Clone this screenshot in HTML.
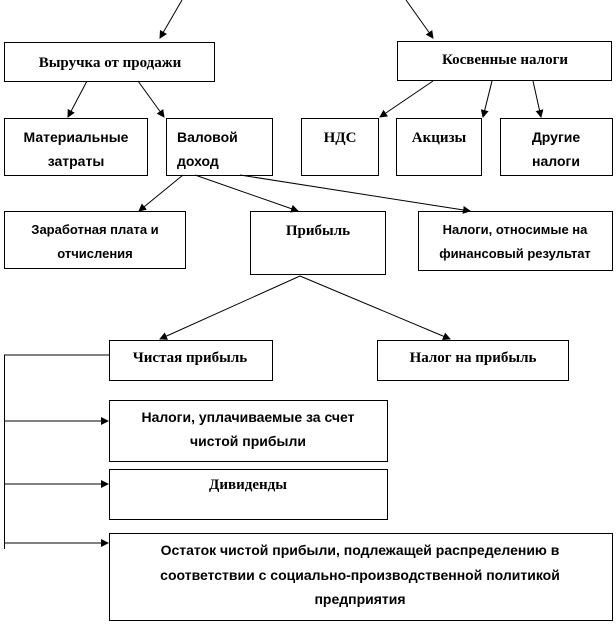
<!DOCTYPE html>
<html><head><meta charset="utf-8"><style>
body{margin:0;background:#fff;width:616px;height:624px;overflow:hidden}
svg text{font-weight:bold;fill:#000}
.s{font-family:"Liberation Serif",serif;font-size:15px}
.a{font-family:"Liberation Sans",sans-serif;font-size:14px}
</style></head><body>
<svg width="616" height="624" viewBox="0 0 616 624" xmlns="http://www.w3.org/2000/svg">
<defs><marker id="m" markerWidth="8" markerHeight="8" refX="7" refY="4" orient="auto" markerUnits="userSpaceOnUse"><path d="M0,0 L8,4 L0,8 z" fill="#000"/></marker></defs>
<g fill="#fff" stroke="#000" stroke-width="1">
<rect x="4.5" y="42.5" width="210" height="39"/>
<rect x="397.5" y="41.5" width="214" height="39"/>
<rect x="4.5" y="118.5" width="143" height="57"/>
<rect x="166.5" y="118.5" width="106" height="57"/>
<rect x="301.5" y="118.5" width="77" height="57"/>
<rect x="396.5" y="118.5" width="85" height="57"/>
<rect x="500.5" y="118.5" width="112" height="57"/>
<rect x="4.5" y="211.5" width="181" height="57"/>
<rect x="250.5" y="211.5" width="135" height="63"/>
<rect x="418.5" y="211.5" width="194" height="59"/>
<rect x="109.5" y="340.5" width="163" height="40"/>
<rect x="377.5" y="340.5" width="191" height="40"/>
<rect x="109.5" y="400.5" width="278" height="61"/>
<rect x="109.5" y="469.5" width="278" height="50"/>
<rect x="109.5" y="533.5" width="503" height="87"/>
</g>
<g stroke="#000" stroke-width="1" fill="none" marker-end="url(#m)">
<line x1="182" y1="0" x2="160" y2="38"/>
<line x1="406" y1="0" x2="433" y2="38"/>
<line x1="87" y1="81" x2="68" y2="117"/>
<line x1="138" y1="81" x2="164" y2="117"/>
<line x1="433" y1="81" x2="380" y2="117"/>
<line x1="492" y1="81" x2="483" y2="117"/>
<line x1="533" y1="81" x2="541" y2="117"/>
<line x1="183" y1="175" x2="139" y2="211"/>
<line x1="195" y1="175" x2="298" y2="211"/>
<line x1="240" y1="175" x2="470" y2="211"/>
<line x1="300" y1="276" x2="160" y2="339"/>
<line x1="300" y1="276" x2="450" y2="339"/>
<line x1="4" y1="421" x2="108" y2="421"/>
<line x1="4" y1="484" x2="108" y2="484"/>
<line x1="4" y1="543" x2="108" y2="543"/>
</g>
<line x1="4.5" y1="355" x2="4.5" y2="549" stroke="#000"/>
<line x1="4" y1="355" x2="109" y2="355" stroke="#000"/>
<text class="s" x="110" y="67" text-anchor="middle">Выручка  от продажи</text>
<text class="s" x="505" y="64" text-anchor="middle">Косвенные  налоги</text>
<text class="a" x="76" y="142" text-anchor="middle">Материальные</text>
<text class="a" x="76" y="166" text-anchor="middle">затраты</text>
<text class="a" x="177" y="142">Валовой</text>
<text class="a" x="177" y="166">доход</text>
<text class="s" x="340" y="142" text-anchor="middle">НДС</text>
<text class="s" x="439" y="142" text-anchor="middle">Акцизы</text>
<text class="a" x="556" y="142" text-anchor="middle">Другие</text>
<text class="a" x="556" y="166" text-anchor="middle">налоги</text>
<text class="a" x="95" y="234" text-anchor="middle" style="font-size:13px">Заработная  плата и</text>
<text class="a" x="95" y="258" text-anchor="middle" style="font-size:13px">отчисления</text>
<text class="s" x="318" y="235" text-anchor="middle">Прибыль</text>
<text class="a" x="515" y="234" text-anchor="middle" style="font-size:13px">Налоги, относимые на</text>
<text class="a" x="515" y="258" text-anchor="middle" style="font-size:13px">финансовый  результат</text>
<text class="s" x="190" y="362" text-anchor="middle">Чистая  прибыль</text>
<text class="s" x="473" y="362" text-anchor="middle">Налог на прибыль</text>
<text class="a" x="248" y="422" text-anchor="middle">Налоги, уплачиваемые за счет</text>
<text class="a" x="248" y="446" text-anchor="middle">чистой прибыли</text>
<text class="s" x="248" y="489" text-anchor="middle">Дивиденды</text>
<text class="a" x="360" y="555" text-anchor="middle">Остаток чистой прибыли, подлежащей распределению  в</text>
<text class="a" x="360" y="580" text-anchor="middle">соответствии с социально-производственной  политикой</text>
<text class="a" x="360" y="604" text-anchor="middle">предприятия</text>
</svg>
</body></html>
